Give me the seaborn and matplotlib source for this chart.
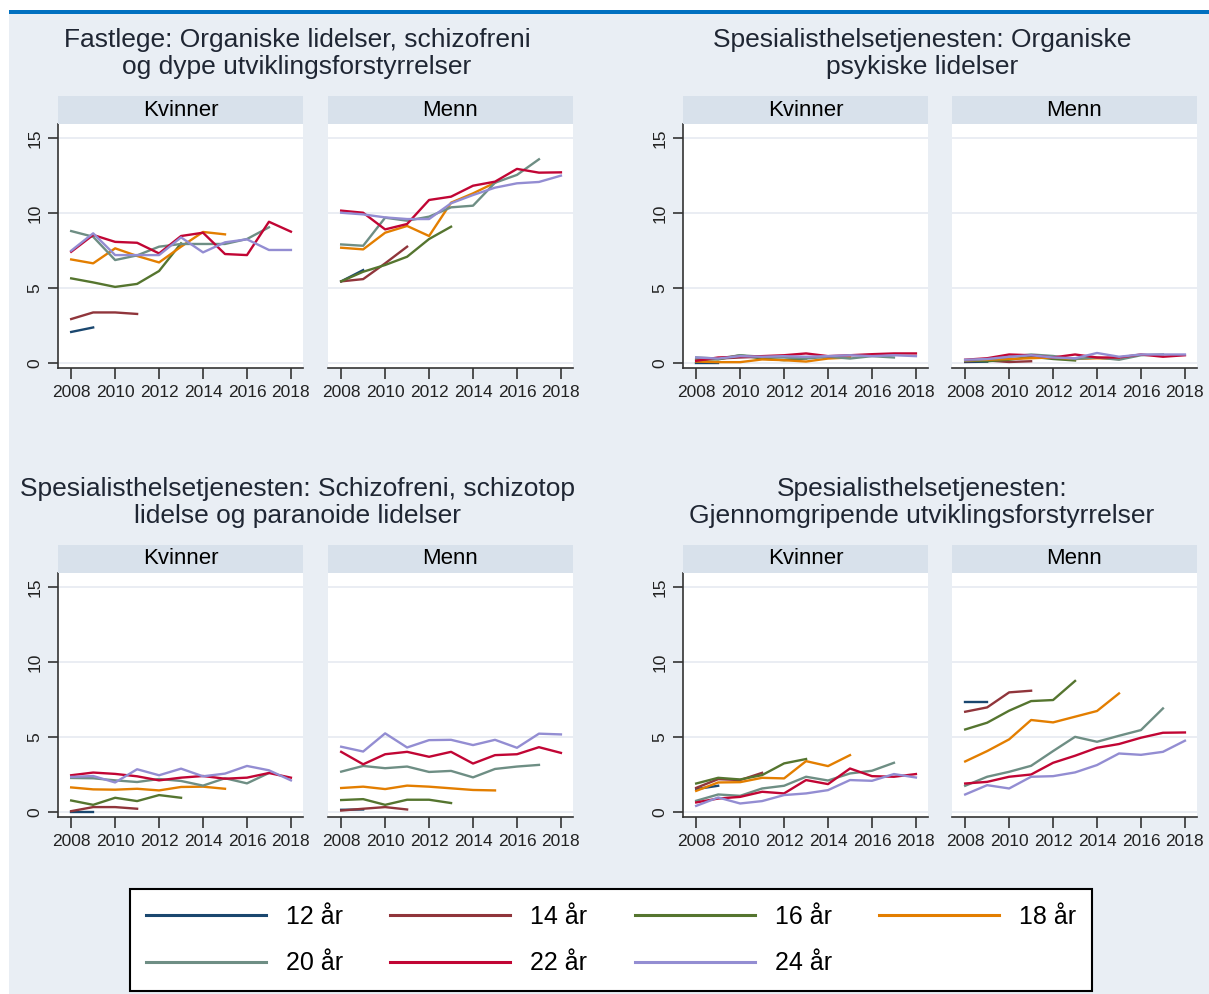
import pandas as pd
import matplotlib
matplotlib.use('Agg')
import matplotlib.pyplot as plt
from matplotlib.patches import Rectangle
from matplotlib.lines import Line2D
import seaborn as sns

plt.rcParams['font.family'] = ['Liberation Sans', 'DejaVu Sans']

# Data: one list per age group, starting in 2008 (younger groups stop earlier)
years = list(range(2008, 2019))
ages = ['12 år', '14 år', '16 år', '18 år', '20 år', '22 år', '24 år']
colors = ['#1a476f', '#90353b', '#55752f', '#e37e00', '#6e8e84', '#c10534', '#938dd2']

fastlege_kvinner = [
    [2.1, 2.4],
    [2.96, 3.4, 3.4, 3.3],
    [5.67, 5.4, 5.1, 5.3, 6.16, 8.0],
    [6.93, 6.67, 7.67, 7.16, 6.73, 7.78, 8.76, 8.6],
    [8.82, 8.44, 6.89, 7.2, 7.78, 7.96, 7.96, 7.96, 8.29, 9.07],
    [7.44, 8.56, 8.1, 8.04, 7.33, 8.49, 8.71, 7.29, 7.22, 9.44, 8.78],
    [7.51, 8.67, 7.22, 7.22, 7.22, 8.4, 7.4, 8.07, 8.27, 7.56, 7.56],
]
fastlege_menn = [
    [5.47, 6.22],
    [5.47, 5.62, 6.67, 7.78],
    [5.47, 6.11, 6.56, 7.11, 8.29, 9.11],
    [7.71, 7.6, 8.71, 9.16, 8.49, 10.71, 11.33, 12.04],
    [7.93, 7.84, 9.71, 9.51, 9.78, 10.4, 10.51, 12.04, 12.56, 13.6],
    [10.18, 10.04, 8.93, 9.29, 10.89, 11.11, 11.84, 12.11, 12.96, 12.71, 12.73],
    [10.04, 9.93, 9.73, 9.62, 9.62, 10.67, 11.22, 11.71, 12.0, 12.09, 12.51],
]
organiske_kvinner = [
    [0.05, 0.05],
    [0.18, 0.33, 0.4, 0.45],
    [0.33, 0.27, 0.55, 0.33, 0.22, 0.33],
    [0.13, 0.09, 0.09, 0.27, 0.22, 0.13, 0.33, 0.4],
    [0.4, 0.33, 0.55, 0.45, 0.4, 0.33, 0.45, 0.33, 0.49, 0.4],
    [0.18, 0.4, 0.45, 0.49, 0.55, 0.67, 0.49, 0.55, 0.62, 0.67, 0.67],
    [0.4, 0.33, 0.49, 0.45, 0.49, 0.45, 0.49, 0.55, 0.49, 0.55, 0.49],
]
organiske_menn = [
    [0.1, 0.12],
    [0.15, 0.2, 0.1, 0.15],
    [0.2, 0.15, 0.25, 0.45, 0.3, 0.2],
    [0.2, 0.25, 0.3, 0.35, 0.4, 0.3, 0.35, 0.3],
    [0.2, 0.3, 0.45, 0.6, 0.5, 0.3, 0.4, 0.25, 0.55, 0.6],
    [0.25, 0.35, 0.6, 0.55, 0.4, 0.6, 0.4, 0.4, 0.6, 0.45, 0.55],
    [0.25, 0.3, 0.45, 0.55, 0.4, 0.35, 0.7, 0.45, 0.6, 0.6, 0.6],
]
schizo_kvinner = [
    [0.05, 0.05],
    [0.09, 0.36, 0.36, 0.25],
    [0.8, 0.51, 0.98, 0.76, 1.16, 0.98],
    [1.67, 1.54, 1.52, 1.58, 1.47, 1.7, 1.72, 1.58],
    [2.3, 2.28, 2.14, 2.03, 2.23, 2.1, 1.79, 2.28, 1.94, 2.63],
    [2.48, 2.66, 2.57, 2.41, 2.14, 2.32, 2.43, 2.25, 2.32, 2.63, 2.32],
    [2.37, 2.43, 2.0, 2.88, 2.48, 2.92, 2.41, 2.59, 3.1, 2.81, 2.14],
]
schizo_menn = [
    [0.18, 0.2],
    [0.13, 0.25, 0.36, 0.2],
    [0.83, 0.89, 0.51, 0.85, 0.85, 0.63],
    [1.63, 1.72, 1.56, 1.79, 1.72, 1.61, 1.5, 1.47],
    [2.72, 3.1, 2.95, 3.06, 2.7, 2.77, 2.34, 2.9, 3.06, 3.17],
    [4.04, 3.21, 3.88, 4.04, 3.71, 4.04, 3.26, 3.82, 3.88, 4.35, 3.97],
    [4.38, 4.06, 5.27, 4.33, 4.82, 4.84, 4.49, 4.84, 4.31, 5.25, 5.2],
]
gjennom_kvinner = [
    [1.56, 1.78],
    [1.64, 2.22, 2.16, 2.64],
    [1.93, 2.31, 2.2, 2.49, 3.27, 3.56],
    [1.44, 2.0, 2.02, 2.31, 2.27, 3.42, 3.09, 3.82],
    [0.78, 1.2, 1.11, 1.6, 1.78, 2.38, 2.13, 2.6, 2.78, 3.31],
    [0.67, 0.93, 1.04, 1.38, 1.27, 2.16, 1.89, 2.93, 2.42, 2.38, 2.56],
    [0.44, 1.0, 0.6, 0.76, 1.16, 1.27, 1.49, 2.16, 2.11, 2.56, 2.33],
]
gjennom_menn = [
    [7.33, 7.33],
    [6.71, 7.0, 8.0, 8.11],
    [5.53, 5.98, 6.78, 7.42, 7.49, 8.76],
    [3.4, 4.09, 4.87, 6.16, 6.0, 6.38, 6.76, 7.93],
    [1.78, 2.38, 2.71, 3.11, 4.09, 5.04, 4.71, 5.11, 5.49, 6.93],
    [1.93, 2.04, 2.38, 2.53, 3.31, 3.78, 4.31, 4.56, 4.98, 5.31, 5.33],
    [1.2, 1.82, 1.6, 2.38, 2.42, 2.67, 3.16, 3.93, 3.84, 4.04, 4.78],
]

titles = [
    ['Fastlege: Organiske lidelser, schizofreni', 'og dype utviklingsforstyrrelser'],
    ['Spesialisthelsetjenesten: Organiske', 'psykiske lidelser'],
    ['Spesialisthelsetjenesten: Schizofreni, schizotop', 'lidelse og paranoide lidelser'],
    ['Spesialisthelsetjenesten:', 'Gjennomgripende utviklingsforstyrrelser'],
]
panel_data = [
    (fastlege_kvinner, fastlege_menn),
    (organiske_kvinner, organiske_menn),
    (schizo_kvinner, schizo_menn),
    (gjennom_kvinner, gjennom_menn),
]


def to_frame(series):
    rows = []
    for age, vals in zip(ages, series):
        for yr, v in zip(years, vals):
            rows.append({'year': yr, 'value': v, 'age': age})
    return pd.DataFrame(rows)


W, H = 1209, 994
bg = '#e9eef4'
strip = '#d8e1eb'
title_color = '#1f2633'

fig = plt.figure(figsize=(W / 100, H / 100), dpi=100)
fig.patch.set_facecolor('white')


def box(x0, y0, x1, y1):
    return [x0 / W, 1 - y1 / H, (x1 - x0) / W, (y1 - y0) / H]


# background and top bar
fig.add_artist(Rectangle((9 / W, 0), 1, 1 - 13.5 / H, transform=fig.transFigure,
                         facecolor=bg, edgecolor='none', zorder=0))
fig.add_artist(Rectangle((9 / W, 1 - 13.5 / H), 1, 3.5 / H, transform=fig.transFigure,
                         facecolor='#0070c0', edgecolor='none', zorder=0))

# layout in pixels
col_x = [[(58, 303), (328, 573)], [(683, 928), (952, 1197)]]
row_y = [dict(t1=40, t2=67, head=(96, 124), plot=(124, 368)),
         dict(t1=489, t2=516, head=(545, 573), plot=(573, 817))]
title_cx = [297, 922]

for p, (kv, me) in enumerate(panel_data):
    r, c = divmod(p, 2)
    ry = row_y[r]
    fig.text(title_cx[c] / W, 1 - ry['t1'] / H, titles[p][0], ha='center', va='center',
             fontsize=19, color=title_color)
    fig.text(title_cx[c] / W, 1 - ry['t2'] / H, titles[p][1], ha='center', va='center',
             fontsize=19, color=title_color)
    for g, (series, label) in enumerate([(kv, 'Kvinner'), (me, 'Menn')]):
        x0, x1 = col_x[c][g]
        hy0, hy1 = ry['head']
        fig.add_artist(Rectangle((x0 / W, 1 - hy1 / H), (x1 - x0) / W, (hy1 - hy0) / H,
                                 transform=fig.transFigure, facecolor=strip, edgecolor='none'))
        fig.text((x0 + x1) / 2 / W, 1 - (hy0 + hy1) / 2 / H, label, ha='center', va='center',
                 fontsize=16, color='black')

        py0, py1 = ry['plot']
        ax = fig.add_axes(box(x0, py0, x1, py1))
        ax.set_facecolor('white')
        sns.lineplot(data=to_frame(series), x='year', y='value', hue='age',
                     hue_order=ages, palette=colors, legend=False, errorbar=None,
                     linewidth=1.7, ax=ax)
        ax.set_xlim(2007.4, 2018.55)
        ax.set_ylim(-0.3, 15.95)
        ax.set_xticks(range(2008, 2019, 2))
        ax.set_yticks([0, 5, 10, 15])
        ax.grid(axis='y', color='#e8ecf2', linewidth=1.3)
        ax.grid(axis='x', visible=False)
        ax.set_axisbelow(True)
        ax.set_xlabel('')
        ax.set_ylabel('')
        for s in ['top', 'right']:
            ax.spines[s].set_visible(False)
        ax.spines['bottom'].set_color('#333333')
        ax.spines['bottom'].set_linewidth(1.2)
        ax.tick_params(axis='x', length=8, width=1.2, color='#333333',
                       labelsize=12.5, labelcolor='#222222', pad=4)
        if g == 0:
            ax.spines['left'].set_color('#333333')
            ax.spines['left'].set_linewidth(1.2)
            ax.tick_params(axis='y', length=7, width=1.2, color='#333333',
                           labelsize=12.5, labelcolor='#222222', pad=4)
            ax.set_yticklabels(['0', '5', '10', '15'], rotation=90, va='center')
        else:
            ax.spines['left'].set_visible(False)
            ax.tick_params(axis='y', length=0, labelleft=False)

# legend, row-major order for 4 columns
order = [0, 4, 1, 5, 2, 6, 3]
handles = [Line2D([0], [0], color=colors[i], linewidth=2.2) for i in order]
labels = [ages[i] for i in order]
leg = fig.legend(handles, labels, ncol=4, loc='center',
                 bbox_to_anchor=(611 / W, 1 - 940 / H),
                 fontsize=18, handlelength=4.8, handletextpad=0.8,
                 columnspacing=1.9, labelspacing=0.9, borderpad=0.62,
                 fancybox=False, framealpha=1, facecolor='white', edgecolor='black')
leg.get_frame().set_linewidth(1.5)

fig.savefig('out.png', dpi=100)
